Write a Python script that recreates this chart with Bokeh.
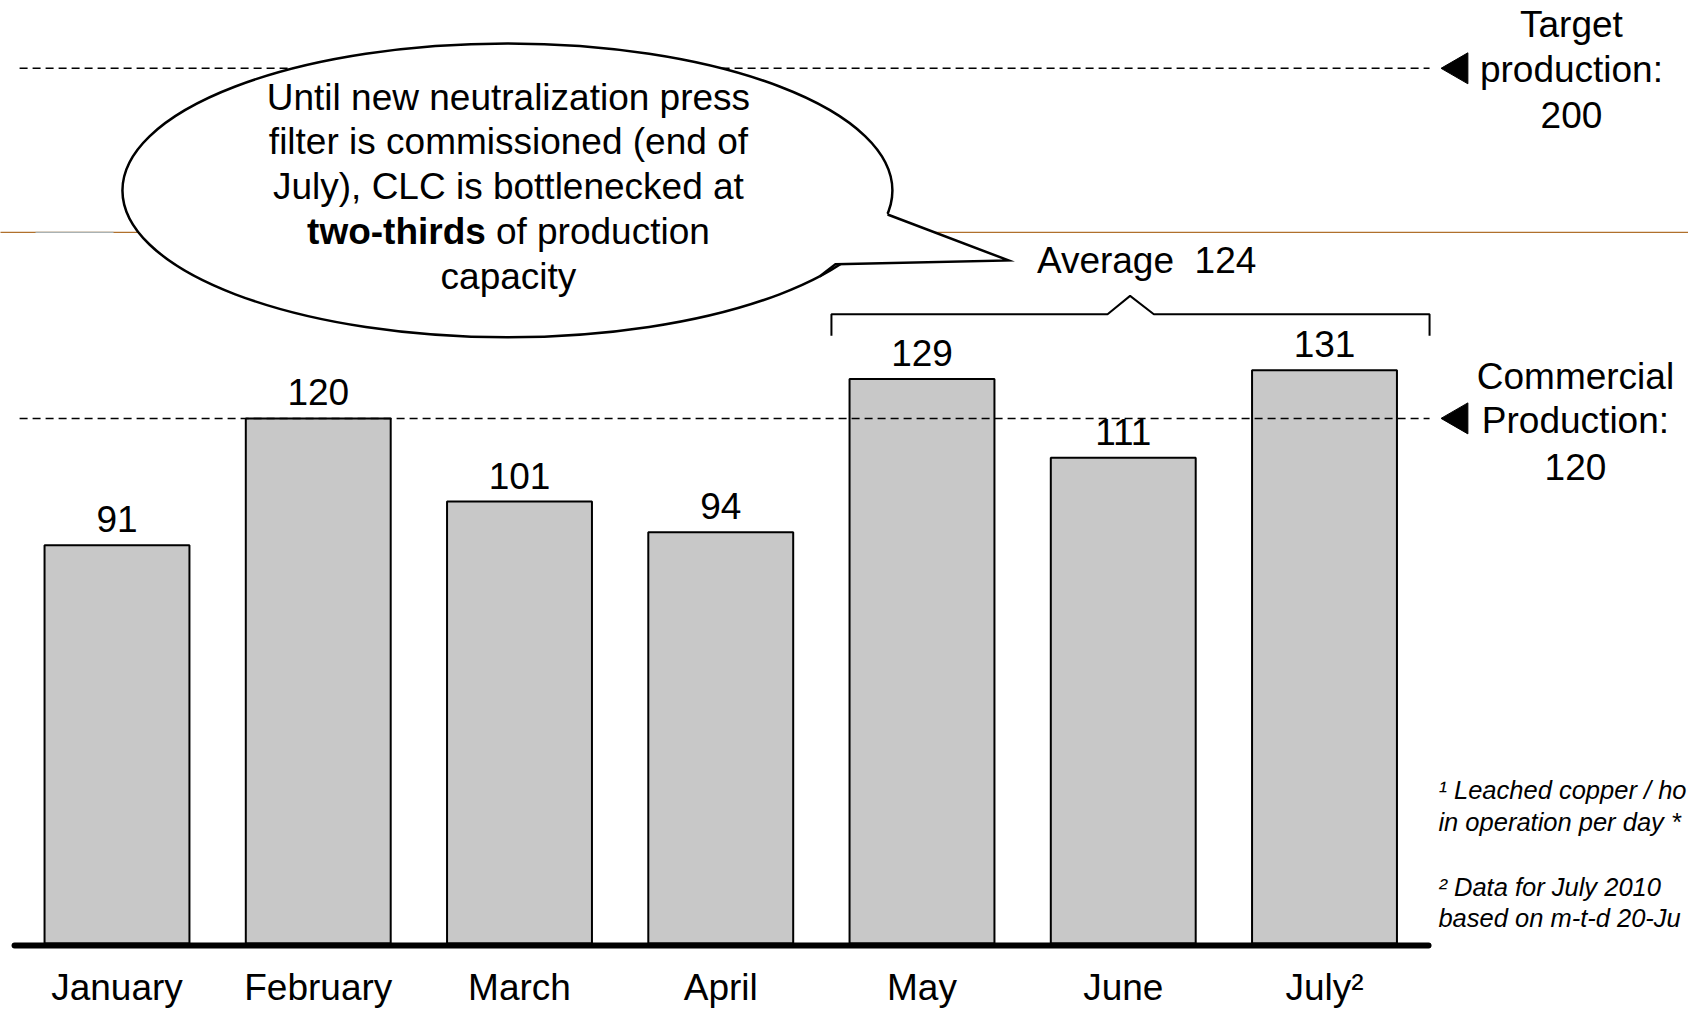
import math
from bokeh.plotting import figure
from bokeh.models import Range1d, ColumnDataSource
from bokeh.core.properties import value
from bokeh.embed import file_html
from bokeh.resources import INLINE

# ---------------- data ----------------
months = ["January", "February", "March", "April", "May", "June", "July²"]
production = [91, 120, 101, 94, 129, 111, 131]
commercial_level = 120
target_level = 200
avg_start, avg_end = 4, 6          # May .. July
avg_value = round(sum(production[avg_start:avg_end + 1]) / (avg_end - avg_start + 1))

target_lines = ["Target", "production:", str(target_level)]
commercial_lines = ["Commercial", "Production:", str(commercial_level)]
callout_lines = ["Until new neutralization press",
                 "filter is commissioned (end of",
                 "July), CLC is bottlenecked at"]
callout_bold = "two-thirds"
callout_rest = "of production"
callout_last = "capacity"
footnotes = ["¹ Leached copper / ho", "in operation per day *",
             "² Data for July 2010", "based on m-t-d 20-Ju"]

# ---------------- layout (pixels per unit) ----------------
W, H = 1688, 1009
PX_X = 201.25          # px per category step
PX_Y = 4.376           # px per production unit
x0 = -116.5 / PX_X
y_top = 943 / PX_Y

p = figure(width=W, height=H, output_backend="svg", toolbar_location=None,
           x_range=Range1d(x0, x0 + W / PX_X),
           y_range=Range1d(y_top - H / PX_Y, y_top),
           min_border=0)
p.axis.visible = False
p.grid.visible = False
p.outline_line_color = None
p.background_fill_color = "white"
p.border_fill_color = "white"

FONT = value("Liberation Sans")
FS = value("37px")
xs = list(range(len(months)))

# template orange rule
p.line([-0.6, 7.9], [162.5, 162.5], line_color="#B0702C", line_width=1.3)
p.line([-0.405, -0.017], [162.5, 162.5], line_color="#A9B2B4", line_width=1.3)

# bars
src = ColumnDataSource(dict(x=xs, top=production, label=[str(v) for v in production],
                            month=months))
p.vbar(x="x", top="top", bottom=0, width=0.72, source=src,
       fill_color="#C8C8C8", line_color="black", line_width=2)

# dashed reference lines
for lvl in (target_level, commercial_level):
    p.line([-0.484, 6.522], [lvl, lvl], line_color="black", line_width=1.5,
           line_dash="8 5")
p.scatter([6.668, 6.668], [target_level, commercial_level], marker="triangle",
          size=31, angle=math.pi / 2, fill_color="black", line_color="black")

# base axis line
p.line([-0.509, 6.517], [-0.45, -0.45], line_color="black", line_width=6,
       line_cap="round")

# speech bubble
p.ellipse(x=1.94, y=172.1, width=3.826, height=67.2, fill_color="white",
          line_color="black", line_width=2.5)
p.patch([3.829, 4.430, 3.570, 3.491, 3.496, 3.794],
        [166.6, 156.1, 155.2, 152.4, 158.4, 168.6],
        fill_color="white", line_color=None)
p.line([3.829, 4.430, 3.570, 3.491], [166.6, 156.1, 155.2, 152.4],
       line_color="black", line_width=2.5, line_join="miter")

# average bracket
p.line([3.550, 3.550, 4.922, 5.034, 5.152, 6.522, 6.522],
       [138.9, 143.8, 143.8, 148.0, 143.8, 143.8, 138.9],
       line_color="black", line_width=2)
p.text(x=[5.116], y=[156.1], text=[f"Average\u00a0 {avg_value}"], text_font=FONT,
       text_font_size=FS, text_align="center", text_baseline="middle",
       text_color="black")

# value labels
p.text(x="x", y="top", text="label", source=src, text_font=FONT, text_font_size=FS,
       text_align="center", text_baseline="middle", y_offset=-26,
       text_color="black")

# month labels
p.text(x="x", y=-10.0, text="month", source=src, text_font=FONT, text_font_size=FS,
       text_align="center", text_baseline="middle", text_color="black")

# callout text
p.text(x=[1.945] * 3, y=[193.3, 183.3, 173.0], text=callout_lines, text_font=FONT,
       text_font_size=FS, text_align="center", text_baseline="middle",
       text_color="black")
p.text(x=[1.833], y=[162.7], text=[callout_bold], text_font=FONT, text_font_size=FS,
       text_font_style="bold", text_align="right", text_baseline="middle",
       text_color="black")
p.text(x=[1.833], y=[162.7], text=[callout_rest], text_font=FONT, text_font_size=FS,
       text_align="left", text_baseline="middle", x_offset=10, text_color="black")
p.text(x=[1.945], y=[152.4], text=[callout_last], text_font=FONT, text_font_size=FS,
       text_align="center", text_baseline="middle", text_color="black")

# right-side labels
p.text(x=[7.227] * 3, y=[210.0, 199.7, 189.4], text=target_lines, text_font=FONT,
       text_font_size=FS, text_align="center", text_baseline="middle",
       text_color="black")
p.text(x=[7.247] * 3, y=[129.6, 119.5, 109.0], text=commercial_lines, text_font=FONT,
       text_font_size=FS, text_align="center", text_baseline="middle",
       text_color="black")

# footnotes
p.text(x=[6.566] * 4, y=[35.0, 27.7, 13.0, 5.9], text=footnotes, text_font=FONT,
       text_font_size=value("25.5px"), text_font_style="italic", text_align="left",
       text_baseline="middle", text_color="black")

open("out.html", "w").write(file_html(p, INLINE))
